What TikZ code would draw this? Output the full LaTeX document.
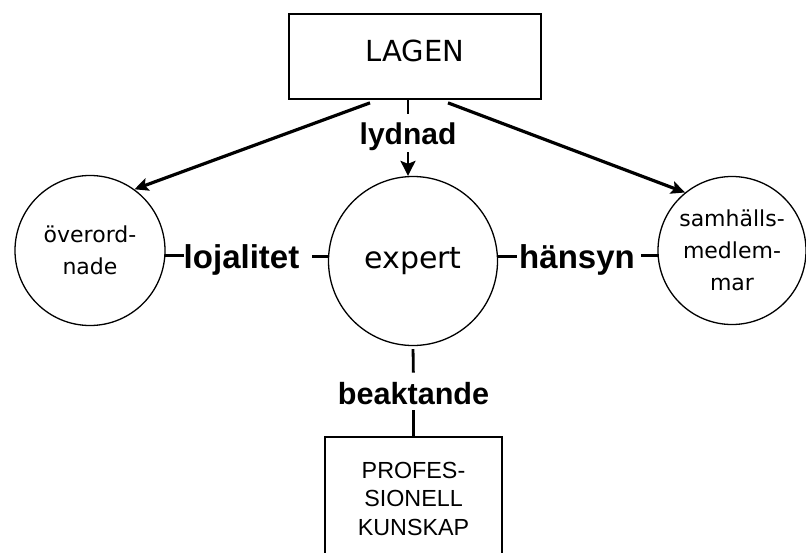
\documentclass[tikz,border=0pt]{standalone}
\usepackage{fontspec}
\setmainfont{DejaVu Sans}
\newfontfamily\labfont{Liberation Sans}
\usetikzlibrary{arrows.meta,calc}
\begin{document}
\begin{tikzpicture}[x=1pt,y=-1pt,
  circ/.style={circle, draw, line width=1.3pt, inner sep=0pt, align=center},
  boxst/.style={draw, line width=1.7pt, inner sep=0pt, align=center},
  lab/.style={font=\labfont\bfseries\fontsize{30}{34}\selectfont, inner sep=0pt},
  biglab/.style={font=\labfont\bfseries\fontsize{33}{38}\selectfont, inner sep=0pt},
  tick/.style={line width=2.8pt},
  arr/.style={line width=3.2pt, -{Stealth[length=14pt,width=13pt,inset=3pt]}},
  thinarr/.style={line width=2.5pt, -{Stealth[length=15pt,width=15pt,inset=3pt]}}]
\useasboundingbox (0,0) rectangle (806,552);
\clip (0,0) rectangle (806,552);
% nodes
\node[boxst, minimum width=252pt, minimum height=85pt,
      font=\fontsize{29}{34}\selectfont, text depth=11pt] (lag) at (415,56.5) {LAGEN};
\node[circ, minimum size=150pt, font=\fontsize{22}{32.5}\selectfont] (ov) at (90,250.5) {överord-\\nade};
\node[circ, minimum size=169pt, font=\fontsize{30}{36}\selectfont] (ex) at (413,261) {expert};
\node[circ, minimum size=148pt, font=\fontsize{22}{32}\selectfont] (sam) at (732,250.5) {samhälls-\\medlem-\\mar};
\node[boxst, minimum width=177pt, minimum height=123pt,
      font=\labfont\fontsize{23.3}{28.5}\selectfont] (pro) at (413.5,498.5) {PROFES-\\SIONELL\\KUNSKAP};
% labels
\node[lab] (lyd) at (408,137.2) {lydnad};
\node[biglab] (loj) at (241.5,259.7) {lojalitet};
\node[biglab] (han) at (577,259.7) {hänsyn};
\node[lab, font=\labfont\bfseries\fontsize{30.6}{35}\selectfont] (bk) at (413.5,394) {beaktande};
% connectors
\draw[tick, shorten >=9.5pt] (lag.south -| lyd) -- (lyd.north);
\draw[thinarr, shorten <=1pt] (lyd.south) -- (ex.north -| lyd);
\draw[arr] ($(lag.south)+(-45,3)$) -- (ov.54);
\draw[arr] ($(lag.south)+(33,3)$) -- (sam.129);
\draw[tick] (ov.-4.5) -- (ov.-4.5 -| loj.west);
\draw[tick] ($(loj.east |- ex.177)+(13,0)$) -- (ex.177);
\draw[tick, shorten >=2pt] (ex.3) -- (ex.3 -| han.west);
\draw[tick] ($(han.east |- sam.184.6)+(6,0)$) -- (sam.184.6);
\draw[tick, shorten <=3pt, shorten >=10pt] (ex.south) -- (bk.north);
\draw[tick, shorten <=5pt] (bk.south) -- (pro.north);
\end{tikzpicture}
\end{document}
